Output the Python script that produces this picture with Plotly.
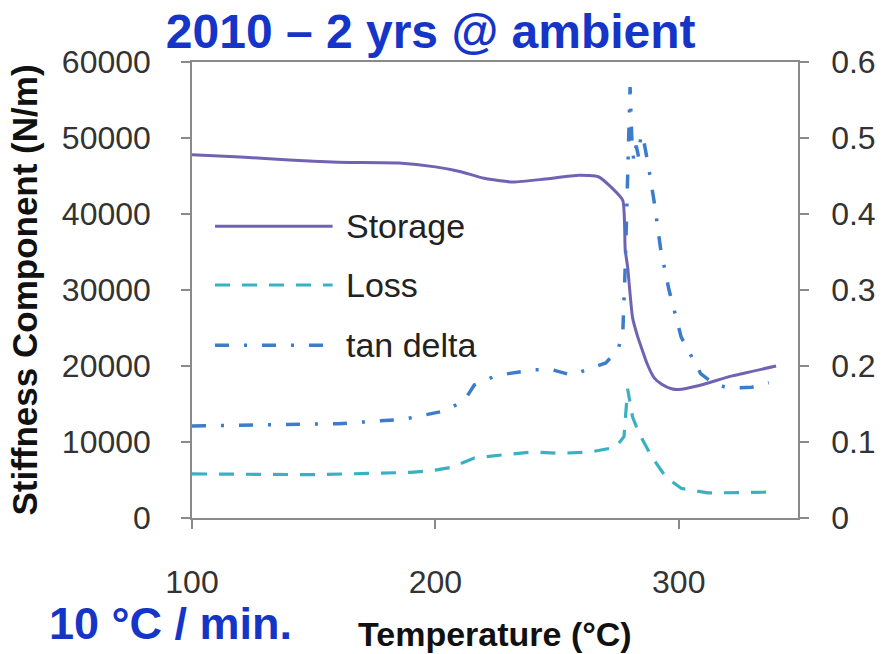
import plotly.graph_objects as go

# ---- data ----
temp_storage = [100, 120, 140, 160, 185, 200, 210, 220, 232, 245, 259, 267, 272, 277, 278, 279, 281, 283, 285, 287, 290, 293, 297, 300, 308, 322, 340]
storage = [47800, 47500, 47100, 46800, 46700, 46200, 45600, 44700, 44200, 44600, 45100, 44900, 43600, 41800, 35300, 33000, 26400, 24000, 22100, 20300, 18400, 17600, 17000, 16900, 17400, 18700, 20000]

temp_loss = [100, 150, 190, 200, 207, 216, 227.5, 240, 251, 264, 274, 277.5, 279, 281, 283.6, 289, 294.7, 301, 312, 330, 338]
loss = [5800, 5700, 6000, 6300, 6700, 7900, 8300, 8700, 8500, 8700, 9300, 10700, 17000, 13300, 11200, 8000, 5400, 3900, 3300, 3400, 3400]

temp_tan = [100, 130, 160, 187, 204, 212, 216, 224, 230, 240, 248, 256, 264, 270, 275, 277, 278, 279, 279.5, 280, 280.7, 281.5, 282.5, 283.5, 284.5, 285.7, 287.7, 290, 292.6, 296, 301, 309, 315, 322, 330, 337]
tan_delta = [0.121, 0.122, 0.124, 0.130, 0.141, 0.155, 0.175, 0.186, 0.190, 0.195, 0.195, 0.188, 0.197, 0.204, 0.221, 0.243, 0.33, 0.445, 0.52, 0.567, 0.50, 0.47, 0.49, 0.475, 0.505, 0.495, 0.46, 0.414, 0.353, 0.30, 0.238, 0.19, 0.175, 0.171, 0.172, 0.178]

x_ticks = [100, 200, 300]
y_ticks = [0, 10000, 20000, 30000, 40000, 50000, 60000]
y_labels = ["0", "10000", "20000", "30000", "40000", "50000", "60000"]
y2_ticks = [0, 0.1, 0.2, 0.3, 0.4, 0.5, 0.6]
y2_labels = ["0", "0.1", "0.2", "0.3", "0.4", "0.5", "0.6"]

series_names = ["Storage", "Loss", "tan delta"]
c_storage = "#7262B4"
c_loss = "#38B2C2"
c_tan = "#3C7CCB"
dash_loss = "15px,12px"
dash_tan = "14px,15px,3px,15px"

FONT = "Liberation Sans, Arial, sans-serif"

fig = go.Figure()
fig.add_trace(go.Scatter(x=temp_storage, y=storage, name=series_names[0], mode="lines",
                         line=dict(color=c_storage, width=3, shape="spline", smoothing=0.5),
                         showlegend=False))
fig.add_trace(go.Scatter(x=temp_loss, y=loss, name=series_names[1], mode="lines",
                         line=dict(color=c_loss, width=3.2, dash=dash_loss),
                         showlegend=False))
fig.add_trace(go.Scatter(x=temp_tan, y=tan_delta, name=series_names[2], mode="lines", yaxis="y2",
                         line=dict(color=c_tan, width=3.5, dash=dash_tan),
                         showlegend=False))

# manual legend (long line samples like the original)
legend_rows = [(0.640, c_storage, "solid", 3), (0.511, c_loss, dash_loss, 3.2), (0.379, c_tan, dash_tan, 3.5)]
shapes = []
annotations = []
for (yy, col, dsh, w), name in zip(legend_rows, series_names):
    shapes.append(dict(type="line", xref="paper", yref="paper", x0=0.038, x1=0.232, y0=yy, y1=yy,
                       line=dict(color=col, width=w, dash=dsh)))
    annotations.append(dict(xref="paper", yref="paper", x=0.250, y=yy, xanchor="left", yanchor="middle",
                            text=name, showarrow=False, font=dict(family=FONT, size=34, color="#222")))

annotations.append(dict(xref="paper", yref="paper", x=-0.035, y=-0.232, xanchor="center", yanchor="middle",
                        text="<b>10 °C / min.</b>", showarrow=False,
                        font=dict(family=FONT, size=45, color="#1535C8")))
annotations.append(dict(xref="paper", yref="paper", x=0.5, y=-0.254, xanchor="center", yanchor="middle",
                        text="<b>Temperature (°C)</b>", showarrow=False,
                        font=dict(family=FONT, size=34, color="#111")))

axis_common = dict(showline=True, linecolor="#8a8a8a", linewidth=1.5, ticks="outside", ticklen=9,
                   tickcolor="#8a8a8a", tickwidth=1.5, showgrid=False, zeroline=False,
                   tickfont=dict(family=FONT, size=32, color="#333"))

fig.update_layout(
    width=888, height=654,
    margin=dict(l=192, r=88, t=62, b=136),
    paper_bgcolor="white", plot_bgcolor="white",
    title=dict(text="<b>2010 – 2 yrs @ ambient</b>", x=0.485, xanchor="center",
               y=0.952, yanchor="middle", yref="container",
               font=dict(family=FONT, size=48, color="#1535C8")),
    xaxis=dict(range=[100, 349], tickvals=x_ticks, mirror=True, ticklabelstandoff=26, **axis_common),
    yaxis=dict(range=[0, 60000], tickvals=y_ticks, ticktext=y_labels, ticklabelstandoff=24,
               title=dict(text="<b>Stiffness Component (N/m)</b>", standoff=14,
                          font=dict(family=FONT, size=35, color="#111")),
               **axis_common),
    yaxis2=dict(range=[0, 0.6], tickvals=y2_ticks, ticktext=y2_labels, overlaying="y", side="right",
                ticklabelstandoff=16, **axis_common),
    shapes=shapes,
    annotations=annotations,
)

fig.write_html("out.html")
